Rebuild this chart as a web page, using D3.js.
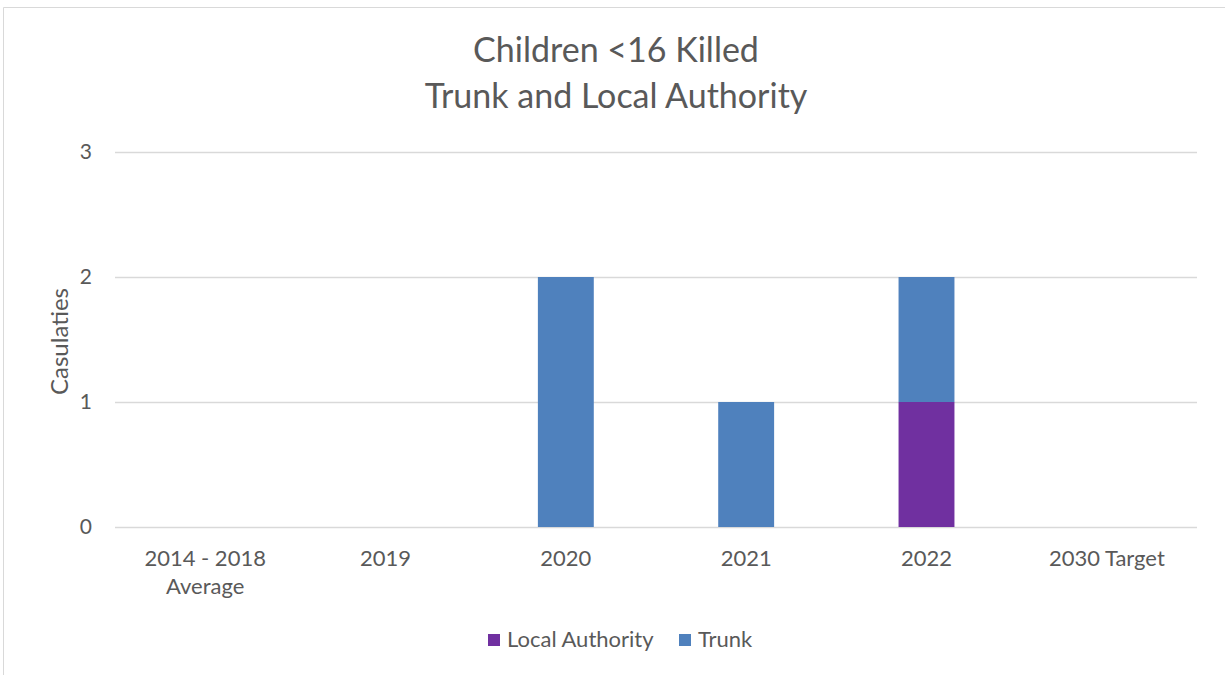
<!DOCTYPE html>
<html>
<head>
<meta charset="utf-8">
<script src="https://cdn.jsdelivr.net/npm/d3@7"></script>
<style>
  body { margin: 0; background: #fff; }
  text { font-family: Lato, "Open Sans", sans-serif; fill: #595959; }
</style>
</head>
<body>
<div id="chart"></div>
<script>
// data
var categories = ["2014 - 2018\nAverage", "2019", "2020", "2021", "2022", "2030 Target"];
var localAuthority = [0, 0, 0, 0, 1, 0];
var trunk = [0, 0, 2, 1, 1, 0];
var yTicks = [0, 1, 2, 3];
var seriesNames = ["Local Authority", "Trunk"];
var colors = ["#7030A0", "#4F81BD"];

var width = 1225, height = 675;

var svg = d3.select("#chart")
    .append("svg")
    .attr("width", width)
    .attr("height", height);

// chart border (left + top)
svg.append("path")
    .attr("d", "M3.5,675 L3.5,7.5 L1225,7.5")
    .attr("fill", "none")
    .attr("stroke", "#d9d9d9")
    .attr("stroke-width", 1);

var plotLeft = 115, plotRight = 1197, plotTop = 152, plotBottom = 527;

var xScale = d3.scaleBand()
    .domain(categories)
    .range([plotLeft, plotRight])
    .paddingInner(0.69)
    .paddingOuter(0.345);

var yScale = d3.scaleLinear()
    .domain([0, 3])
    .range([plotBottom, plotTop]);

// gridlines
svg.append("g")
    .selectAll("line")
    .data(yTicks)
    .enter()
    .append("line")
    .attr("x1", plotLeft)
    .attr("x2", plotRight)
    .attr("y1", function(d) { return Math.round(yScale(d)) + 0.5; })
    .attr("y2", function(d) { return Math.round(yScale(d)) + 0.5; })
    .attr("stroke", "#d9d9d9")
    .attr("stroke-width", 1.5);

// y labels
svg.append("g")
    .selectAll("text")
    .data(yTicks)
    .enter()
    .append("text")
    .attr("x", 92)
    .attr("y", function(d) { return yScale(d) + 7; })
    .attr("text-anchor", "end")
    .attr("font-size", 21)
    .text(function(d) { return d; });

// stacked bars
var rows = categories.map(function(c, i) {
    return { cat: c, la: localAuthority[i], trunk: trunk[i] };
});
var stack = d3.stack().keys(["la", "trunk"]);
var layers = stack(rows);

svg.append("g")
    .selectAll("g")
    .data(layers)
    .enter()
    .append("g")
    .attr("fill", function(d, i) { return colors[i]; })
    .selectAll("rect")
    .data(function(d) { return d; })
    .enter()
    .append("rect")
    .attr("x", function(d) { return xScale(d.data.cat); })
    .attr("width", xScale.bandwidth())
    .attr("y", function(d) { return yScale(d[1]); })
    .attr("height", function(d) { return yScale(d[0]) - yScale(d[1]); });

// x labels
var xl = svg.append("g")
    .selectAll("text")
    .data(categories)
    .enter()
    .append("text")
    .attr("text-anchor", "middle")
    .attr("font-size", 22)
    .attr("x", function(d) { return xScale(d) + xScale.bandwidth() / 2; })
    .attr("y", 566);
xl.selectAll("tspan")
    .data(function(d) { return d.split("\n"); })
    .enter()
    .append("tspan")
    .attr("x", function() { return d3.select(this.parentNode).attr("x"); })
    .attr("dy", function(d, i) { return i === 0 ? 0 : 28; })
    .text(function(d) { return d; });

// y axis title
svg.append("text")
    .attr("transform", "translate(68," + ((plotTop + plotBottom) / 2 + 2) + ") rotate(-90)")
    .attr("text-anchor", "middle")
    .attr("font-size", 24)
    .text("Casulaties");

// title
svg.append("text")
    .attr("x", 616)
    .attr("y", 62)
    .attr("text-anchor", "middle")
    .attr("font-size", 34)
    .text("Children <16 Killed");
svg.append("text")
    .attr("x", 616)
    .attr("y", 108)
    .attr("text-anchor", "middle")
    .attr("font-size", 34)
    .text("Trunk and Local Authority");

// legend
var legendX = [488, 679];
var lg = svg.append("g")
    .selectAll("g")
    .data(seriesNames)
    .enter()
    .append("g")
    .attr("transform", function(d, i) { return "translate(" + legendX[i] + ",634)"; });
lg.append("rect")
    .attr("width", 12)
    .attr("height", 12)
    .attr("fill", function(d, i) { return colors[i]; });
lg.append("text")
    .attr("x", 19)
    .attr("y", 13)
    .attr("font-size", 22)
    .text(function(d) { return d; });
</script>
</body>
</html>
